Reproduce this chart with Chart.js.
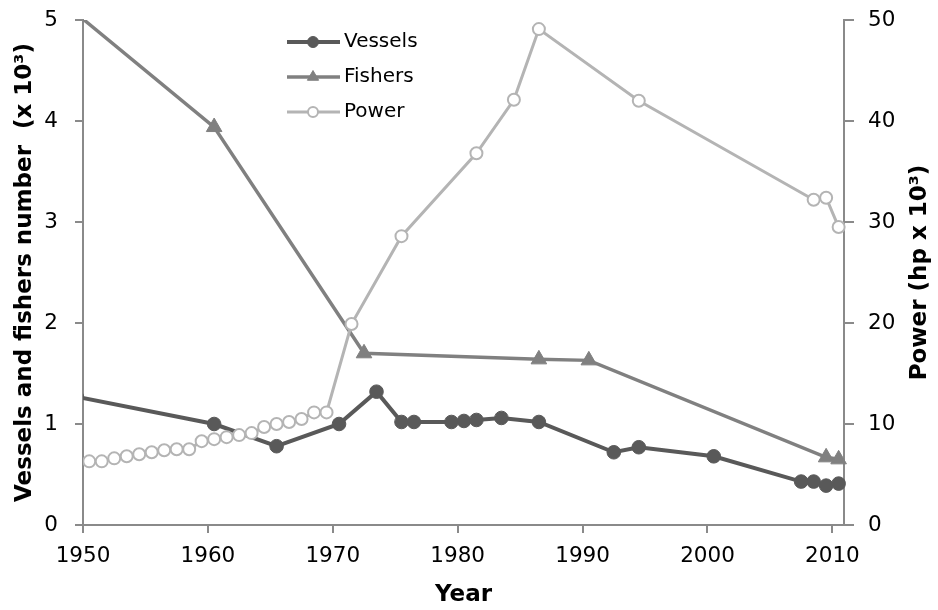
<!DOCTYPE html>
<html>
<head>
<meta charset="utf-8">
<script src="https://cdn.jsdelivr.net/npm/chart.js@4.4.1/dist/chart.umd.min.js"></script>
<style>
  html, body { margin: 0; padding: 0; background: #fff; }
  #wrap { width: 938px; height: 610px; }
</style>
</head>
<body>
<div id="wrap"><canvas id="chart" width="938" height="610"></canvas></div>
<script>
// values (points sit in the middle of each year)
const vesselYears = [1949.5, 1960.5, 1965.5, 1970.5, 1973.5, 1975.5, 1976.5, 1979.5, 1980.5, 1981.5, 1983.5, 1986.5, 1992.5, 1994.5, 2000.5, 2007.5, 2008.5, 2009.5, 2010.5];
const vessels = [1.27, 1.0, 0.78, 1.0, 1.32, 1.02, 1.02, 1.02, 1.03, 1.04, 1.06, 1.02, 0.72, 0.77, 0.68, 0.43, 0.43, 0.39, 0.41];

const fisherYears = [1949.5, 1960.5, 1972.5, 1986.5, 1990.5, 2009.5, 2010.5];
const fishers = [5.06, 3.94, 1.70, 1.64, 1.63, 0.67, 0.65];

const powerYears = [1950.5, 1951.5, 1952.5, 1953.5, 1954.5, 1955.5, 1956.5, 1957.5, 1958.5, 1959.5,
                    1960.5, 1961.5, 1962.5, 1963.5, 1964.5, 1965.5, 1966.5, 1967.5, 1968.5, 1969.5,
                    1971.5, 1975.5, 1981.5, 1984.5, 1986.5, 1994.5, 2008.5, 2009.5, 2010.5];
const power = [6.3, 6.3, 6.6, 6.8, 7.0, 7.2, 7.4, 7.5, 7.5, 8.3,
               8.5, 8.7, 8.9, 9.1, 9.7, 10.0, 10.2, 10.5, 11.15, 11.15,
               19.9, 28.6, 36.8, 42.1, 49.1, 42.0, 32.2, 32.4, 29.5];

const yearTicks = [1950, 1960, 1970, 1980, 1990, 2000, 2010];

const FONT = '"DejaVu Sans", Verdana, sans-serif';
const axisColor = '#8a8a8a';
const colors = Object.freeze({
  VESSELS: '#595959',
  FISHERS: '#808080',
  POWER: '#b4b4b4',
});

function toPoints(xs, ys){
  return xs.map((x, i) => ({ x: x, y: ys[i] }));
}

// legend drawn inside the plot, top-left like the original
const insideLegend = {
  id: 'insideLegend',
  afterDraw(chart){
    const ctx = chart.ctx;
    const rows = [42, 77, 112];
    ctx.save();
    chart.data.datasets.forEach((ds, i) => {
      const y = rows[i];
      ctx.strokeStyle = ds.borderColor;
      ctx.lineWidth = ds.borderWidth;
      ctx.beginPath();
      ctx.moveTo(287, y);
      ctx.lineTo(340, y);
      ctx.stroke();
      ctx.fillStyle = ds.pointBackgroundColor;
      ctx.strokeStyle = ds.pointBorderColor;
      ctx.lineWidth = ds.pointBorderWidth;
      Chart.helpers.drawPoint(ctx, {
        pointStyle: ds.pointStyle,
        radius: ds.legendRadius,
        rotation: 0,
        borderWidth: ds.pointBorderWidth
      }, 313, y);
      ctx.fillStyle = '#000';
      ctx.font = '20px ' + FONT;
      ctx.textAlign = 'left';
      ctx.textBaseline = 'middle';
      ctx.fillText(ds.label, 344, y);
    });
    ctx.restore();
  }
};

// right axis title reads bottom-to-top, which the built-in title does not do
const rightTitle = {
  id: 'rightTitle',
  afterDraw(chart){
    const ctx = chart.ctx;
    const area = chart.chartArea;
    ctx.save();
    ctx.translate(920, (area.top + area.bottom) / 2);
    ctx.rotate(-Math.PI / 2);
    ctx.font = 'bold 23px ' + FONT;
    ctx.fillStyle = '#000';
    ctx.textAlign = 'center';
    ctx.textBaseline = 'middle';
    ctx.fillText('Power (hp x 10³)', 0, 0);
    ctx.restore();
  }
};

const tickFont = { family: FONT, size: 21.5 };
const titleFont = { family: FONT, size: 23, weight: 'bold' };

function fixWidth(w){
  return (scale) => {
    scale.width = w;
    scale.paddingTop = 0;
    scale.paddingBottom = 0;
  };
}

new Chart(document.getElementById('chart'), {
  type: 'line',
  data: {
    datasets: [
      {
        label: 'Vessels',
        data: toPoints(vesselYears, vessels),
        yAxisID: 'y',
        borderColor: colors.VESSELS,
        borderWidth: 4,
        pointStyle: 'circle',
        pointRadius: 6.8,
        legendRadius: 5.5,
        pointBackgroundColor: colors.VESSELS,
        pointBorderColor: colors.VESSELS,
        pointBorderWidth: 1,
        order: 2,
        clip: { left: 0, top: 0, right: 10, bottom: 10 },
      },
      {
        label: 'Fishers',
        data: toPoints(fisherYears, fishers),
        yAxisID: 'y',
        borderColor: colors.FISHERS,
        borderWidth: 3.5,
        pointStyle: 'triangle',
        pointRadius: 9,
        legendRadius: 6.5,
        pointBackgroundColor: colors.FISHERS,
        pointBorderColor: colors.FISHERS,
        pointBorderWidth: 1,
        order: 1,
        clip: { left: 0, top: 0, right: 10, bottom: 10 },
      },
      {
        label: 'Power',
        data: toPoints(powerYears, power),
        yAxisID: 'y1',
        borderColor: colors.POWER,
        borderWidth: 3,
        pointStyle: 'circle',
        pointRadius: 6,
        legendRadius: 5,
        pointBackgroundColor: '#ffffff',
        pointBorderColor: colors.POWER,
        pointBorderWidth: 2,
        order: 0,
        clip: { left: 0, top: 10, right: 10, bottom: 10 },
      }
    ]
  },
  options: {
    responsive: false,
    animation: false,
    events: [],
    layout: { padding: { top: 20, left: 0, right: 0, bottom: 0 } },
    plugins: {
      legend: { display: false },
      tooltip: { enabled: false },
    },
    scales: {
      x: {
        type: 'linear',
        min: 1950,
        max: 2010.93,
        afterFit: (scale) => {
          scale.height = 85;
          scale.paddingLeft = 0;
          scale.paddingRight = 0;
        },
        afterBuildTicks: (scale) => { scale.ticks = yearTicks.map(v => ({ value: v })); },
        ticks: {
          color: '#000',
          font: tickFont,
          padding: 11,
          maxRotation: 0,
          autoSkip: false,
          callback: (value) => String(value),
        },
        grid: { drawOnChartArea: false, drawTicks: true, tickLength: 8, color: axisColor, lineWidth: 2 },
        border: { color: axisColor, width: 2 },
        title: { display: true, text: 'Year', color: '#000', font: titleFont, padding: { top: 0, bottom: 1 } },
      },
      y: {
        position: 'left',
        min: 0,
        max: 5,
        afterFit: fixWidth(83),
        ticks: { stepSize: 1, color: '#000', font: tickFont, padding: 17 },
        grid: { drawOnChartArea: false, drawTicks: true, tickLength: 8, color: axisColor, lineWidth: 2 },
        border: { color: axisColor, width: 2 },
        title: { display: true, text: 'Vessels and fishers number  (x 10³)', color: '#000', font: titleFont, padding: { top: 11, bottom: 0 } },
      },
      y1: {
        position: 'right',
        min: 0,
        max: 50,
        afterFit: fixWidth(94),
        ticks: { stepSize: 10, color: '#000', font: tickFont, padding: 14 },
        grid: { drawOnChartArea: false, drawTicks: true, tickLength: 10, color: axisColor, lineWidth: 2 },
        border: { color: axisColor, width: 2 },
      }
    }
  },
  plugins: [insideLegend, rightTitle]
});
</script>
</body>
</html>
